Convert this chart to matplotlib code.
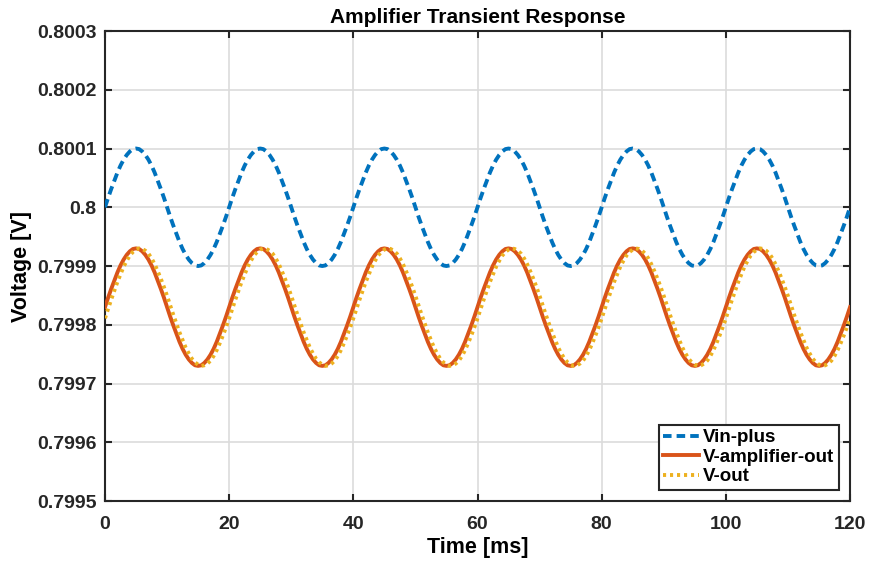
import numpy as np
import matplotlib.pyplot as plt

plt.rcParams['font.family'] = ['Liberation Sans', 'DejaVu Sans']

step_ms = 0.5
n_periods = 6
vin_period = [0.00, 0.16, 0.31, 0.45, 0.59, 0.71, 0.81, 0.89, 0.95, 0.99,
              1.00, 0.99, 0.95, 0.89, 0.81, 0.71, 0.59, 0.45, 0.31, 0.16,
              0.00, -0.16, -0.31, -0.45, -0.59, -0.71, -0.81, -0.89, -0.95, -0.99,
              -1.00, -0.99, -0.95, -0.89, -0.81, -0.71, -0.59, -0.45, -0.31, -0.16]
amp_period = vin_period
vout_period = [-0.19, -0.03, 0.13, 0.28, 0.43, 0.56, 0.69, 0.79, 0.88, 0.94,
               0.98, 1.00, 0.99, 0.96, 0.91, 0.83, 0.73, 0.61, 0.48, 0.34,
               0.19, 0.03, -0.13, -0.28, -0.43, -0.56, -0.69, -0.79, -0.88, -0.94,
               -0.98, -1.00, -0.99, -0.96, -0.91, -0.83, -0.73, -0.61, -0.48, -0.34]
vin_base = 0.8
amp_base = 0.79983
vout_base = 0.79983


def build(period, base):
    vals = list(period) * n_periods + [period[0]]
    return base + np.array(vals) * 1e-4


t = np.arange(len(vin_period) * n_periods + 1) * step_ms
vin = build(vin_period, vin_base)
vamp = build(amp_period, amp_base)
vout = build(vout_period, vout_base)

fig = plt.figure(figsize=(8.72, 5.63), dpi=100)
ax = fig.add_axes([0.1204, 0.1101, 0.8544, 0.8348])

ax.plot(t, vin, color='#0072BD', lw=2.8, linestyle=(0, (2.2, 1.3)), label='Vin-plus', zorder=3)
ax.plot(t, vamp, color='#D95319', lw=2.8, label='V-amplifier-out', zorder=4)
ax.plot(t, vout, color='#EDB120', lw=2.8, linestyle=(0, (0.8, 1.0)), label='V-out', zorder=5)

ax.set_xlim(0, 120)
ax.set_ylim(0.7995, 0.8003)
ax.set_xticks(np.arange(0, 121, 20))
ax.set_yticks([0.7995, 0.7996, 0.7997, 0.7998, 0.7999, 0.8, 0.8001, 0.8002, 0.8003])
ax.set_yticklabels(['0.7995', '0.7996', '0.7997', '0.7998', '0.7999', '0.8',
                    '0.8001', '0.8002', '0.8003'])
ax.grid(True, color='#dcdcdc', lw=1.2)
ax.set_axisbelow(True)
ax.tick_params(direction='in', length=5, width=1.5, top=True, right=True,
               labelsize=14, colors='#262626', pad=6)
ax.tick_params(axis='x', pad=11)
for lab in ax.get_xticklabels() + ax.get_yticklabels():
    lab.set_fontweight('bold')
for s in ax.spines.values():
    s.set_linewidth(1.5)
    s.set_color('#262626')

ax.set_title('Amplifier Transient Response', fontsize=15, fontweight='bold', pad=6)
ax.set_xlabel('Time [ms]', fontsize=15.5, fontweight='bold', labelpad=3)
ax.set_ylabel('Voltage [V]', fontsize=15.5, fontweight='bold', labelpad=4)

leg = ax.legend(loc='lower right', prop={'weight': 'bold', 'size': 13.5},
                fancybox=False, edgecolor='#262626', framealpha=1,
                handlelength=1.9, handletextpad=0.2, borderpad=0.25,
                labelspacing=0.12, borderaxespad=0.6)
leg.get_frame().set_linewidth(1.5)

fig.savefig('out.png', dpi=100)
